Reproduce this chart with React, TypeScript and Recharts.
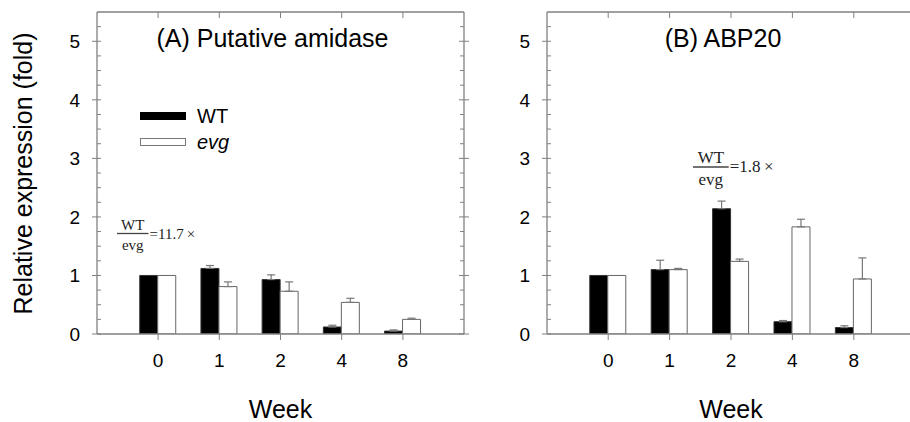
import React from "react";
import { BarChart, Bar, XAxis, YAxis, ErrorBar, Legend } from "recharts";

const weeks = ["0", "1", "2", "4", "8"];

// (A) Putative amidase
const amidaseWT = [1.0, 1.12, 0.93, 0.12, 0.05];
const amidaseWTErr = [0, 0.05, 0.08, 0.03, 0.02];
const amidaseEvg = [1.0, 0.81, 0.73, 0.54, 0.25];
const amidaseEvgErr = [0, 0.08, 0.16, 0.07, 0.02];

// (B) ABP20
const abpWT = [1.0, 1.1, 2.14, 0.21, 0.11];
const abpWTErr = [0, 0.16, 0.13, 0.02, 0.03];
const abpEvg = [1.0, 1.1, 1.24, 1.83, 0.94];
const abpEvgErr = [0, 0.02, 0.04, 0.13, 0.36];

// every 0.25 gets a minor tick, the whole numbers get a label
const yTicks = [
  0, 0.25, 0.5, 0.75, 1, 1.25, 1.5, 1.75, 2, 2.25, 2.5, 2.75, 3, 3.25, 3.5,
  3.75, 4, 4.25, 4.5, 4.75, 5, 5.25,
];

const SANS = "'Liberation Sans', Arial, sans-serif";
const SERIF = "'Liberation Serif', 'Times New Roman', serif";
const AXIS = "#808080";
const PLOT_TOP = 12;

function buildRows(wt: number[], wtErr: number[], evg: number[], evgErr: number[]) {
  return weeks.map((week, i) => ({
    week,
    WT: wt[i],
    wtErr: wtErr[i] ? [0, wtErr[i]] : undefined,
    evg: evg[i],
    evgErr: evgErr[i] ? [0, evgErr[i]] : undefined,
  }));
}

// left axis tick: crossing major ticks + label, inward minor ticks,
// and the matching ticks on the right-hand frame
function YTick({ x, y, payload, plotRight }: any) {
  const v = payload.value;
  const major = Number.isInteger(v);
  return (
    <g stroke={AXIS} strokeWidth={1}>
      {major ? (
        <>
          <line x1={x - 5} x2={x + 4} y1={y} y2={y} />
          <line x1={plotRight - 5} x2={plotRight + 5} y1={y} y2={y} />
          <text
            x={x - 17}
            y={y}
            dy="0.355em"
            textAnchor="end"
            stroke="none"
            fill="#000"
            fontSize={19}
            fontFamily={SANS}
          >
            {v}
          </text>
        </>
      ) : (
        <>
          <line x1={x} x2={x + 4} y1={y} y2={y} />
          <line x1={plotRight - 4} x2={plotRight} y1={y} y2={y} />
        </>
      )}
    </g>
  );
}

// bottom axis tick: outward tick + label, inward tick on the top frame
function XTick({ x, y, payload }: any) {
  return (
    <g stroke={AXIS} strokeWidth={1}>
      <line x1={x} x2={x} y1={y} y2={y + 6} />
      <line x1={x} x2={x} y1={PLOT_TOP} y2={PLOT_TOP + 6} />
      <text
        x={x}
        y={y + 20}
        dy="0.71em"
        textAnchor="middle"
        stroke="none"
        fill="#000"
        fontSize={19}
        fontFamily={SANS}
      >
        {payload.value}
      </text>
    </g>
  );
}

function LegendBox({ payload }: any) {
  return (
    <div style={{ fontFamily: SANS, fontSize: 20, color: "#000" }}>
      {(payload || []).map((p: any) => (
        <div key={p.value} style={{ display: "flex", alignItems: "center", height: 26 }}>
          <svg width={46} height={8} style={{ marginRight: 11 }}>
            <rect
              x={0.5}
              y={0.5}
              width={45}
              height={7}
              fill={p.value === "WT" ? "#000" : "#fff"}
              stroke={p.value === "WT" ? "#000" : "#777"}
            />
          </svg>
          <span style={{ fontStyle: p.value === "evg" ? "italic" : "normal" }}>{p.value}</span>
        </div>
      ))}
    </div>
  );
}

function Fraction({ x, y, ratio, size }: { x: number; y: number; ratio: string; size: number }) {
  const w = size * 2.1;
  return (
    <g fontFamily={SERIF} fontSize={size} fill="#222">
      <text x={x + w / 2} y={y - 4} textAnchor="middle">WT</text>
      <line x1={x} x2={x + w} y1={y} y2={y} stroke="#444" strokeWidth={1.3} />
      <text x={x + w / 2} y={y + size + 1} textAnchor="middle">evg</text>
      <text x={x + w + 1} y={y + 5}>{`=${ratio}\u2009×`}</text>
    </g>
  );
}

interface PanelProps {
  rows: ReturnType<typeof buildRows>;
  title: string;
  titleX: number;
  width: number;
  left: number;
  marginLeft: number;
  marginRight: number;
  frac: { x: number; y: number; ratio: string; size: number };
  showLegend?: boolean;
  showYLabel?: boolean;
}

function Panel(props: PanelProps) {
  const { rows, title, titleX, width, left, marginLeft, marginRight, frac, showLegend, showYLabel } = props;
  const plotLeft = marginLeft + 60;
  const plotRight = width - marginRight - 6;
  const mid = (plotLeft + plotRight) / 2;
  return (
    <div style={{ position: "absolute", left, top: 0 }}>
      <BarChart
        width={width}
        height={422}
        data={rows}
        margin={{ top: PLOT_TOP, right: marginRight, bottom: 58, left: marginLeft }}
        barCategoryGap="20%"
        barGap={0}
      >
        <XAxis
          dataKey="week"
          height={30}
          padding={{ left: 30.5, right: 30.5 }}
          tickSize={0}
          tickMargin={0}
          tickLine={false}
          axisLine={{ stroke: AXIS, strokeWidth: 1.3 }}
          tick={<XTick />}
          interval={0}
        />
        <XAxis
          xAxisId="top"
          dataKey="week"
          orientation="top"
          mirror
          height={1}
          padding={{ left: 30.5, right: 30.5 }}
          tick={false}
          tickLine={false}
          axisLine={{ stroke: AXIS, strokeWidth: 1.3 }}
        />
        <YAxis
          yAxisId="main"
          type="number"
          domain={[0, 5.5]}
          allowDataOverflow
          ticks={yTicks}
          interval={0}
          width={60}
          tickSize={0}
          tickMargin={0}
          tickLine={false}
          axisLine={{ stroke: AXIS, strokeWidth: 1.3 }}
          tick={<YTick plotRight={plotRight} />}
        />
        <YAxis
          yAxisId="frameR"
          orientation="right"
          type="number"
          domain={[0, 5.5]}
          allowDataOverflow
          width={6}
          tick={false}
          tickLine={false}
          axisLine={{ stroke: AXIS, strokeWidth: 1.3 }}
        />
        <Bar yAxisId="main" dataKey="WT" name="WT" fill="#000" stroke="#333" strokeWidth={1} isAnimationActive={false}>
          <ErrorBar dataKey="wtErr" direction="y" width={4} stroke="#777" strokeWidth={1.2} />
        </Bar>
        <Bar yAxisId="main" dataKey="evg" name="evg" fill="#fff" stroke="#666" strokeWidth={1} isAnimationActive={false}>
          <ErrorBar dataKey="evgErr" direction="y" width={4} stroke="#777" strokeWidth={1.2} />
        </Bar>
        {showLegend && (
          <Legend
            layout="horizontal"
            verticalAlign="middle"
            align="center"
            content={<LegendBox />}
            wrapperStyle={{ left: 140, top: 103, width: 140, height: 56 }}
          />
        )}
        <text x={titleX} y={47} textAnchor="middle" fontFamily={SANS} fontSize={25} fill="#000">
          {title}
        </text>
        <text x={mid} y={418} textAnchor="middle" fontFamily={SANS} fontSize={25} fill="#000">
          Week
        </text>
        {showYLabel && (
          <text
            x={22.5}
            y={173.5}
            transform="rotate(-90, 22.5, 173.5)"
            textAnchor="middle"
            dominantBaseline="central"
            fontFamily={SANS}
            fontSize={25}
            fill="#000"
          >
            Relative expression (fold)
          </text>
        )}
        <Fraction {...frac} />
      </BarChart>
    </div>
  );
}

export default function App() {
  const rowsA = buildRows(amidaseWT, amidaseWTErr, amidaseEvg, amidaseEvgErr);
  const rowsB = buildRows(abpWT, abpWTErr, abpEvg, abpEvgErr);
  return (
    <div
      style={{
        position: "fixed",
        left: 0,
        top: 0,
        width: 910,
        height: 422,
        overflow: "hidden",
        background: "#fff",
      }}
    >
      <Panel
        rows={rowsA}
        title="(A) Putative amidase"
        titleX={272.5}
        width={470}
        left={0}
        marginLeft={37}
        marginRight={0}
        frac={{ x: 117, y: 233.5, ratio: "11.7", size: 15 }}
        showLegend
        showYLabel
      />
      {/* panel B runs a few pixels past the window edge, as in the original */}
      <Panel
        rows={rowsB}
        title="(B) ABP20"
        titleX={253}
        width={452}
        left={470}
        marginLeft={17}
        marginRight={1}
        frac={{ x: 223, y: 167, ratio: "1.8", size: 17 }}
      />
    </div>
  );
}
